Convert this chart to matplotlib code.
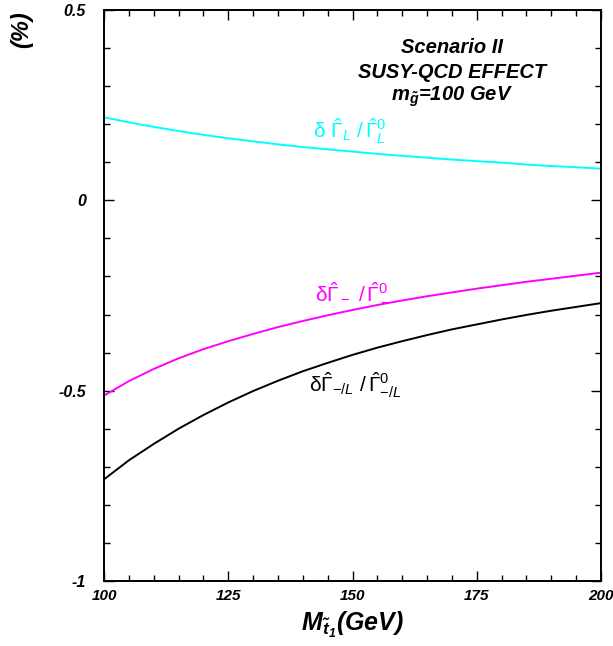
import numpy as np
import matplotlib
matplotlib.use("Agg")
import matplotlib.pyplot as plt
from matplotlib.ticker import MultipleLocator

plt.rcParams['font.family'] = ['Liberation Sans', 'DejaVu Sans']
plt.rcParams['mathtext.fontset'] = 'custom'
plt.rcParams['mathtext.rm'] = 'Liberation Sans'
plt.rcParams['mathtext.it'] = 'Liberation Sans:italic'
plt.rcParams['mathtext.bf'] = 'Liberation Sans:bold'
plt.rcParams['mathtext.bfit'] = 'Liberation Sans:bold:italic'

# stop mass (GeV) and relative corrections (%)
mass = [100, 105, 110, 115, 120, 125, 130, 135, 140, 145, 150,
        155, 160, 165, 170, 175, 180, 185, 190, 195, 200]
gamma_L = [0.218, 0.205, 0.193, 0.182, 0.172, 0.163, 0.155, 0.147, 0.140, 0.134, 0.128,
           0.122, 0.117, 0.112, 0.107, 0.103, 0.099, 0.094, 0.090, 0.087, 0.083]
gamma_minus = [-0.513, -0.475, -0.443, -0.415, -0.391, -0.370, -0.351, -0.333, -0.317, -0.302, -0.288,
               -0.275, -0.263, -0.252, -0.242, -0.232, -0.223, -0.214, -0.206, -0.198, -0.190]
gamma_minus_L = [-0.733, -0.683, -0.640, -0.600, -0.564, -0.531, -0.501, -0.474, -0.449, -0.427, -0.406,
                 -0.387, -0.370, -0.354, -0.339, -0.326, -0.313, -0.301, -0.290, -0.280, -0.270]

fig = plt.figure(figsize=(6.13, 6.46), dpi=100)
ax = fig.add_axes([104 / 613, 1 - 581 / 646, 497 / 613, 571 / 646])

ax.plot(mass, gamma_L, color='cyan', lw=1.4)
ax.plot(mass, gamma_minus, color='magenta', lw=1.4)
ax.plot(mass, gamma_minus_L, color='black', lw=1.4)

ax.set_xlim(100, 200)
ax.set_ylim(-1, 0.5)
ax.xaxis.set_major_locator(MultipleLocator(25))
ax.xaxis.set_minor_locator(MultipleLocator(5))
ax.yaxis.set_major_locator(MultipleLocator(0.5))
ax.yaxis.set_minor_locator(MultipleLocator(0.1))
ax.tick_params(which='both', direction='in', top=True, right=True, width=1)
ax.tick_params(which='major', length=7.5, pad=6)
ax.tick_params(which='minor', length=4)
ax.set_xticks([100, 125, 150, 175, 200])
ax.set_xticklabels(['100', '125', '150', '175', '200'], fontweight='bold', style='italic', fontsize=11)
ax.set_yticks([-1, -0.5, 0, 0.5])
ax.set_yticklabels(['-1', '-0.5', '0', '0.5'], fontweight='bold', style='italic', fontsize=11.5)
ax.tick_params(axis='y', pad=13)
for s in ax.spines.values():
    s.set_linewidth(1.4)

ax.set_xlabel(r'$\mathbfit{M}_{\mathbfit{\tilde{t}}_{\mathbfit{1}}}$(GeV)', fontsize=18, fontweight='bold', style='italic', labelpad=5)
fig.text(22 / 613, 1 - 30 / 646, '(%)', rotation=90, fontsize=17, fontweight='bold', style='italic', ha='center', va='center')

ax.text(0.70, 0.935, 'Scenario II', transform=ax.transAxes, ha='center', va='center', fontsize=14.5, fontweight='bold', style='italic')
ax.text(0.70, 0.891, 'SUSY-QCD EFFECT', transform=ax.transAxes, ha='center', va='center', fontsize=14.5, fontweight='bold', style='italic')
ax.text(0.70, 0.848, r'$\mathbfit{m}_{\mathbfit{\tilde{g}}}$=100 GeV', transform=ax.transAxes, ha='center', va='center', fontsize=14.5, fontweight='bold', style='italic')

ax.text(149.5, 0.18, r'$\mathrm{\delta}\ \hat{\Gamma}_L\ /\,\hat{\Gamma}^0_L$', color='cyan', ha='center', va='center', fontsize=15)
ax.text(150, -0.24, r'$\mathrm{\delta}\hat{\Gamma}_-\ /\,\hat{\Gamma}^0_-$', color='magenta', ha='center', va='center', fontsize=15)
ax.text(150.5, -0.485, r'$\mathrm{\delta}\hat{\Gamma}_{-/L}\ /\,\hat{\Gamma}^0_{-/L}$', color='black', ha='center', va='center', fontsize=15)

fig.savefig('out.png', dpi=100)
